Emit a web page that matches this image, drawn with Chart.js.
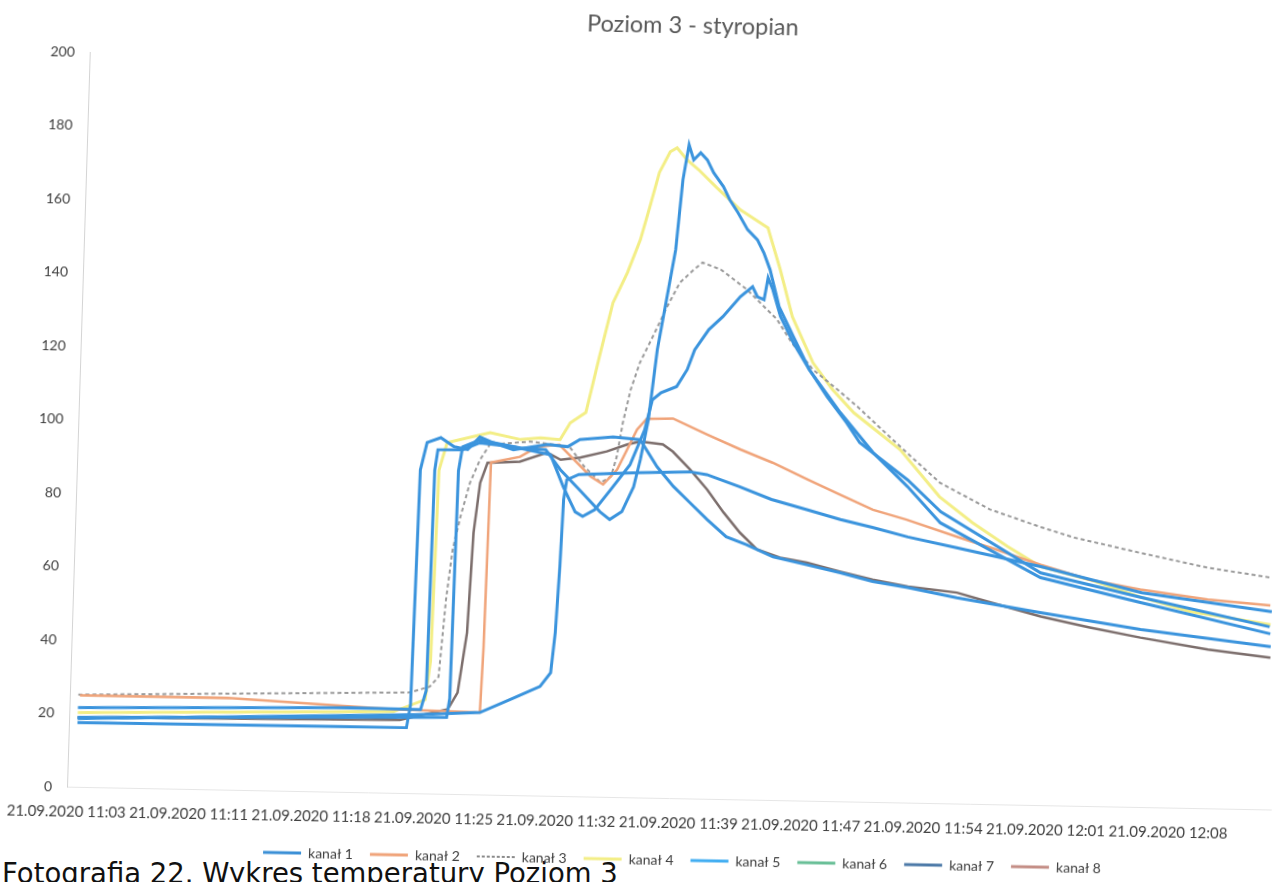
<!DOCTYPE html>
<html>
<head>
<meta charset="utf-8">
<script src="https://cdn.jsdelivr.net/npm/chart.js@4.4.1/dist/chart.umd.min.js"></script>
<style>
  html, body { margin: 0; padding: 0; background: #fff; width: 1278px; height: 882px; overflow: hidden; }
  #caption { position: absolute; left: 2px; top: 860px; font-family: "DejaVu Sans", sans-serif; font-size: 27.5px; line-height: 27px; color: #111; white-space: nowrap; }
  #wrap { position: absolute; left: 0; top: 0; width: 1278px; height: 882px; transform-origin: 67px 787px; transform: matrix(1, 0.019, -0.031, 1, 0, 0); }
</style>
</head>
<body>
<div id="caption">Fotografia 22. Wykres temperatury Poziom 3</div>
<div id="wrap"><canvas id="chart" width="1278" height="882"></canvas></div>
<script>
// Time axis: minutes after 11:03, labels every ~7.2 minutes
const tickLabels = ['21.09.2020 11:03', '21.09.2020 11:11', '21.09.2020 11:18', '21.09.2020 11:25', '21.09.2020 11:32',
                    '21.09.2020 11:39', '21.09.2020 11:47', '21.09.2020 11:54', '21.09.2020 12:01', '21.09.2020 12:08'];
const tickStepMin = 7.22;

const seriesNames = ['kanał 1', 'kanał 2', 'kanał 3', 'kanał 4', 'kanał 5', 'kanał 6', 'kanał 7', 'kanał 8'];

// [minute, °C]
const kanal1 = [[0.5,17.5],[19.9,17.8],[20.1,24],[20.25,88],[20.6,95.5],[21.4,96.9],[22.2,94.5],[23.0,93.8],[23.7,97.3],[24.5,95.8],[25.7,94],[27.7,95.6],[28.9,95.1],[29.6,97.1],[31.55,98],[33.15,97.4],[34.2,90.1],[35.2,84.8],[36.2,80.5],[37.25,76],[38.4,71.4],[39.6,69.4],[41.2,66.2],[43.2,64.2],[45.2,62.2],[47.1,60],[49.2,58.5],[52.1,56],[57.05,52.4],[63,48.3],[70.7,44.3]];
const kanal2 = [[0.6,24.9],[9.3,25],[15.2,23.6],[19.1,22.7],[24.2,22.3],[24.3,40],[24.4,90.4],[26.1,92.1],[27.1,94.9],[28.4,95.6],[30.3,87.1],[31.05,85],[31.85,89.1],[32.95,100.1],[33.5,103.1],[35.05,103.3],[37.1,99.1],[39.1,95.2],[41.0,91.8],[43.1,87.4],[45.0,83.5],[47.0,79.5],[49.0,77],[52.0,72.6],[54.0,69.8],[57.0,65.4],[59.9,61.6],[62.9,59.2],[66.9,56.8],[70.6,55.5]];
const kanal3 = [[0.5,25.1],[20.05,27.4],[21.2,29.1],[21.7,31.8],[22.0,52.9],[22.3,66.5],[22.7,75.5],[23.2,84.8],[23.75,91.1],[24.3,95.3],[26.7,96.3],[29.0,95.1],[29.9,89.8],[30.9,85.5],[31.5,87.2],[31.8,92.6],[32.1,101.9],[32.5,110.9],[33.0,118.4],[33.7,125.4],[34.5,133.7],[35.2,140.3],[36.0,143.9],[36.5,145.9],[37.6,144.1],[39.2,138.7],[41.0,130.8],[41.9,124.6],[43.2,117.4],[44.7,112],[45.9,107.5],[48.5,96.8],[50.9,87.2],[53.9,80.2],[56.9,75.7],[58.9,73],[62.8,69.2],[66.8,65.5],[70.6,63.1]];
const kanal4 = [[0.5,20.2],[19.1,22.1],[20.95,25.5],[21.2,36],[21.35,88],[21.78,95.6],[24.3,98.5],[26.1,96.8],[27.3,97.4],[28.43,97],[29.0,101.6],[29.9,104.5],[30.1,108.8],[30.6,119.8],[31.3,134.5],[32.1,142.8],[32.8,151.8],[33.3,160.8],[33.8,170.2],[34.4,175.9],[34.8,177],[35.4,173.8],[36.1,171.2],[37.2,166.4],[38.6,160.6],[40.3,155.7],[41.1,144.4],[41.9,131.6],[43.2,119.2],[44.4,112],[45.7,105.8],[48.5,96],[50.9,83.4],[52.9,76.5],[55.0,70.2],[57.0,64.9],[59.9,61.6],[62.9,57.2],[65.9,53.4],[67.8,52.2],[70.65,50.3]];
const kanal5 = [[0.5,18.9],[22.25,20.8],[22.4,26],[22.5,88],[22.7,94.5],[23.7,96.5],[26.1,94.5],[27.6,94.2],[28.5,88.8],[29.65,83.5],[30.9,77.6],[31.5,75.5],[32.2,77.7],[32.85,84.5],[33.2,92],[33.6,102.9],[34.0,122],[34.9,149.3],[35.2,168.4],[35.5,177.9],[35.8,173.8],[36.2,175.8],[36.6,173.9],[37.0,170.4],[37.6,166.7],[38.0,163.1],[38.5,159.7],[39.1,155.1],[39.7,152.4],[40.1,148.9],[40.5,144.3],[41.1,134.3],[42.0,126.2],[43.0,117.3],[44.1,110],[45.3,103],[46.1,97.7],[49.0,87.8],[51.0,79.3],[57.0,63.2],[63.0,57],[70.6,49.7]];
const kanal6 = [[0.5,21.6],[16.4,22.9],[20.7,22.8],[21.0,28],[21.1,88],[21.25,93.6],[22.7,93.7],[23.7,95.7],[25.7,94.8],[27.9,92.8],[28.7,84.2],[29.45,77.4],[29.9,76.2],[30.6,78.1],[31.5,83.6],[32.6,90.5],[33.4,100.1],[33.8,108.3],[34.3,110.3],[35.2,112],[35.8,116.7],[36.2,122.1],[37.0,127.7],[37.8,131.3],[38.8,136.8],[39.5,139.6],[39.8,136.9],[40.2,136.1],[40.4,142.1],[40.7,138.9],[41.2,131.6],[42.0,124.6],[43.0,117.3],[44.9,105.8],[46.9,95.1],[49.0,86],[51.0,76.3],[57.0,61.9],[63.0,55.6],[70.65,47.8]];
const kanal7 = [[0.5,18.6],[20.3,21.4],[24.2,22.3],[26.2,26.5],[27.7,29.7],[28.3,33.5],[28.5,44.4],[28.65,62.4],[28.75,80.7],[28.9,86.1],[29.6,87.6],[33.1,88.4],[36.15,88.9],[37.15,88.2],[39.1,85.1],[41.0,81.8],[43.1,79.2],[45.1,76.7],[47.0,74.7],[49.1,72.3],[52.0,69.6],[57.0,64.9],[63.0,58.3],[70.7,53.8]];
const kanal8 = [[0.5,18.9],[19.5,19.9],[22.3,23],[22.85,27.6],[23.3,44],[23.5,71.2],[23.8,84.8],[24.2,90.3],[26.1,90.8],[27.7,93.4],[28.5,91.5],[29.65,92.2],[31.2,94],[32.4,96],[33.15,96.9],[34.5,96.2],[35.1,94.3],[36.15,89.5],[37.2,84.1],[38.2,78],[39.2,72.6],[40.25,68.1],[41.6,66],[43.2,64.8],[45.2,62.5],[47.1,60.5],[49.2,58.8],[52.1,57.4],[54.1,54.9],[57.1,51.3],[60,48.6],[63,46.1],[67,43.2],[70.7,41.3]];

const seriesData = [kanal1, kanal2, kanal3, kanal4, kanal5, kanal6, kanal7, kanal8];

// Styling
const lineColors   = ['#3b94dd', '#f0a47a', '#9a9a9a', '#f3ee86', '#3b94dd', '#3b94dd', '#3b94dd', '#7c6e6c'];
const legendColors = ['#3a8fd6', '#f0a47a', '#666666', '#f3ee86', '#42aef2', '#69bf97', '#4d7aa8', '#c48e86'];
const lineWidths   = [3, 2.5, 2, 3, 3, 3, 3, 2.5];
const drawOrder    = [0, 1, 1, 1, 0, 0, 0, 2];

const datasets = seriesNames.map((name, i) => ({
  label: name,
  data: seriesData[i],
  borderColor: lineColors[i],
  backgroundColor: legendColors[i],
  borderWidth: lineWidths[i],
  borderDash: i === 2 ? [4, 3] : [],
  pointRadius: 0,
  tension: 0,
  fill: false,
  order: drawOrder[i]
}));

const textColor = '#404040';

// Nudge the centred legend row a little to the right
const legendShift = {
  id: 'legendShift',
  afterLayout(chart) {
    const lg = chart.legend;
    if (lg) { lg.left += 15; lg.right += 15; }
  }
};

new Chart(document.getElementById('chart'), {
  type: 'line',
  data: { datasets },
  plugins: [legendShift],
  options: {
    responsive: false,
    animation: false,
    devicePixelRatio: 1,
    layout: { padding: { top: 0, left: 0, right: 7, bottom: 16 } },
    plugins: {
      tooltip: { enabled: false },
      title: {
        display: true,
        text: 'Poziom 3 - styropian',
        fullSize: false,
        color: '#595959',
        font: { family: 'Lato', size: 23.5, weight: 'normal' },
        padding: { top: 0, bottom: 24 }
      },
      legend: {
        position: 'bottom',
        fullSize: false,
        labels: {
          usePointStyle: true,
          pointStyle: 'line',
          pointStyleWidth: 38,
          padding: 17,
          color: textColor,
          font: { family: 'Lato', size: 14 },
          sort: (a, b) => a.datasetIndex - b.datasetIndex,
          generateLabels(chart) {
            const items = Chart.defaults.plugins.legend.labels.generateLabels(chart);
            items.forEach(item => {
              const i = item.datasetIndex;
              item.strokeStyle = legendColors[i];
              item.fillStyle = legendColors[i];
              item.lineWidth = i === 2 ? 1.5 : 3;
              item.lineDash = i === 2 ? [3, 2] : [];
            });
            return items;
          }
        }
      }
    },
    scales: {
      x: {
        type: 'linear',
        min: 0,
        max: 71,
        afterBuildTicks(scale) {
          scale.ticks = tickLabels.map((_, i) => ({ value: i * tickStepMin }));
        },
        afterFit(scale) {
          scale.height = 38;
          scale.paddingLeft = 0;
          scale.paddingRight = 0;
        },
        ticks: {
          autoSkip: false,
          maxRotation: 0,
          padding: 16,
          color: textColor,
          font: { family: 'Lato', size: 15 },
          callback: (value, index) => tickLabels[index]
        },
        grid: { display: false, drawTicks: false },
        border: { display: true, color: '#e6e6e6', width: 1 }
      },
      y: {
        min: 0,
        max: 200,
        afterFit(scale) { scale.width = 67; },
        ticks: {
          stepSize: 20,
          padding: 15,
          color: textColor,
          font: { family: 'Lato', size: 14 }
        },
        grid: { display: false, drawTicks: false },
        border: { display: true, color: '#d4d4d4', width: 1 }
      }
    }
  }
});
</script>
</body>
</html>
